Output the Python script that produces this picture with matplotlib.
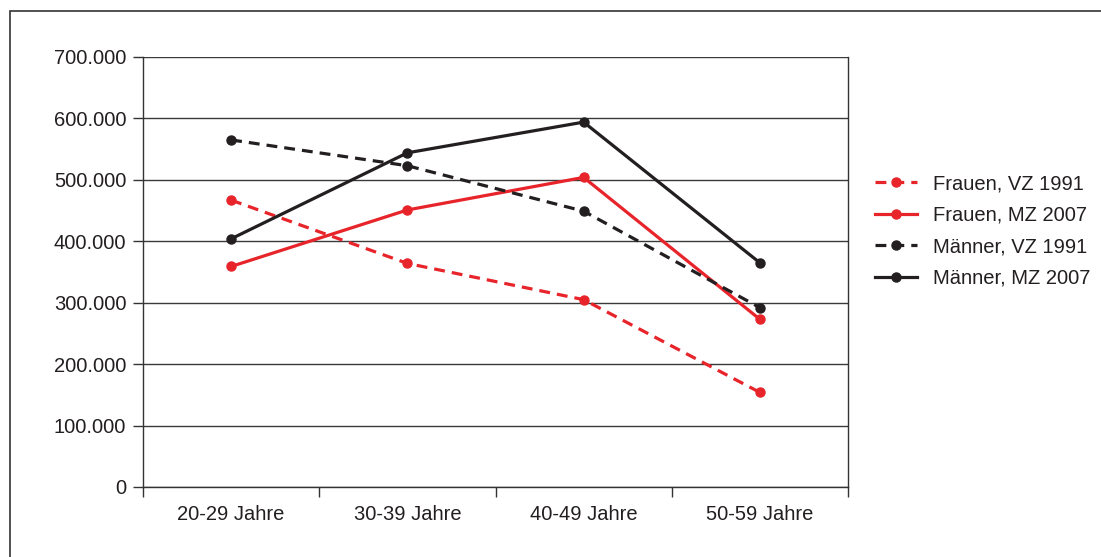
import matplotlib.pyplot as plt
from matplotlib.patches import Rectangle
import numpy as np

plt.rcParams['font.family'] = ['Liberation Sans', 'DejaVu Sans']

categories = ['20-29 Jahre', '30-39 Jahre', '40-49 Jahre', '50-59 Jahre']
frauen_vz1991 = [467000, 364000, 305000, 154000]
frauen_mz2007 = [359000, 451000, 504000, 273000]
maenner_vz1991 = [565000, 523000, 449000, 292000]
maenner_mz2007 = [404000, 544000, 594000, 365000]

red = '#E8242B'
black = '#231F20'
fs = 14.5

fig = plt.figure(figsize=(11.01, 5.57), dpi=100)
ax = fig.add_axes([143/1101, 70/557, 705/1101, 430/557])

x = np.arange(len(categories))
series = [
    (frauen_vz1991, red, '--', 'Frauen, VZ 1991'),
    (frauen_mz2007, red, '-', 'Frauen, MZ 2007'),
    (maenner_vz1991, black, '--', 'Männer, VZ 1991'),
    (maenner_mz2007, black, '-', 'Männer, MZ 2007'),
]
for vals, col, ls, lab in series:
    line, = ax.plot(x, vals, color=col, linestyle=ls, lw=2.3, marker='o',
                    markersize=6.5, label=lab, zorder=3)
    if ls == '--':
        line.set_dashes((3.4, 2.2))

ax.set_xlim(-0.5, 3.5)
ax.set_ylim(0, 700000)
ax.set_yticks(np.arange(0, 700001, 100000))
ax.set_yticklabels(['0'] + ['%d.000' % (v // 1000) for v in range(100000, 700001, 100000)])
ax.yaxis.grid(True, color='#3a3a3a', lw=1.0)
ax.set_axisbelow(True)

ax.set_xticks(x)
ax.set_xticklabels(categories)
ax.set_xticks(np.arange(-0.5, 4, 1), minor=True)
ax.tick_params(axis='x', which='major', length=0, pad=13, labelsize=fs, colors='#231F20')
ax.tick_params(axis='x', which='minor', length=7, width=1.0, color='#333333')
ax.tick_params(axis='y', length=7, width=1.0, color='#333333', pad=5, labelsize=fs, labelcolor='#231F20')

for s in ['left', 'bottom', 'right']:
    ax.spines[s].set_color('#333333')
    ax.spines[s].set_linewidth(1.0)
ax.spines['top'].set_visible(False)

leg = fig.legend(loc='center left', bbox_to_anchor=(857/1101, 1 - 231/557),
                 frameon=False, fontsize=fs, handlelength=2.1,
                 labelspacing=0.62, handletextpad=0.75)
for t in leg.get_texts():
    t.set_color('#231F20')

# outer frame
fig.patches.append(Rectangle((10/1101, -0.05), 1.2, 1 - 11/557 + 0.05,
                             transform=fig.transFigure, fill=False,
                             edgecolor='#333333', lw=1.2))

fig.savefig('out.png', dpi=100)
